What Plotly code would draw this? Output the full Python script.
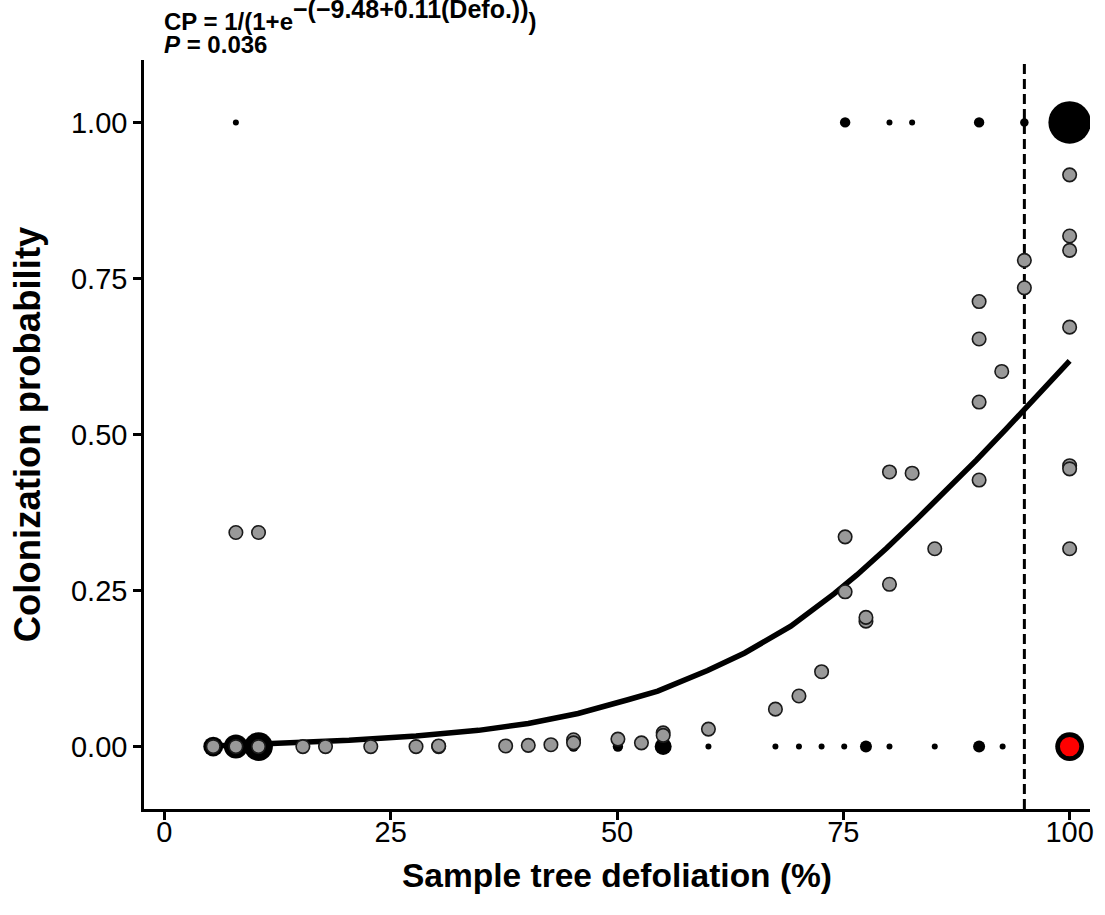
import numpy as np
import plotly.graph_objects as go

# ---------------- data ----------------
# Sample-tree observations (colonized = 1 / not colonized = 0), count per defoliation
obs_top_x = [7.9, 75.2, 80.1, 82.6, 90.0, 95.0, 100.0]
obs_top_n = [1, 3, 1, 1, 3, 2, 50]
obs_bot_x = [5.4, 7.9, 10.4, 45.2, 50.1, 55.1, 60.1, 67.5, 70.1, 72.6, 75.1, 77.5, 80.1, 85.1, 90.0, 92.6, 100.0]
obs_bot_n = [11, 16, 23, 3, 3, 8, 1, 1, 1, 1, 1, 4, 1, 1, 4, 1, 23]

# Plot-level colonization probability
plot_x = [5.4, 7.9, 10.4, 15.3, 17.8, 22.8, 27.8, 30.3, 30.3, 37.7, 40.2, 42.7, 45.2, 45.2,
          50.1, 52.7, 55.1, 55.1, 60.1, 67.5, 70.1, 72.6, 75.2, 75.2, 77.5, 77.5, 80.1, 80.1,
          82.6, 85.1, 90.0, 90.0, 90.0, 90.0, 92.5, 95.0, 95.0, 100.0, 100.0, 100.0, 100.0,
          100.0, 100.0, 100.0, 7.9, 10.4]
plot_y = [0.0, 0.0, 0.0, 0.0, 0.0, 0.0, 0.0, 0.0, 0.001, 0.001, 0.002, 0.003, 0.011, 0.006,
          0.012, 0.006, 0.022, 0.018, 0.028, 0.060, 0.081, 0.120, 0.248, 0.336, 0.201, 0.207,
          0.260, 0.440, 0.438, 0.317, 0.427, 0.552, 0.653, 0.713, 0.601, 0.735, 0.779, 0.916,
          0.818, 0.795, 0.672, 0.450, 0.445, 0.317, 0.343, 0.343]

# Highlighted plot
red_x = [100.0]
red_y = [0.0]

# Fitted colonization probability curve
fit_x = [5.4, 12.0, 20.4, 27.8, 34.7, 40.2, 45.7, 51.2, 54.5, 60.0, 64.1, 69.2, 74.0,
         76.5, 79.8, 83.1, 86.4, 89.7, 93.0, 96.0, 100.0]
fit_y = [0.001, 0.004, 0.010, 0.017, 0.026, 0.037, 0.053, 0.075, 0.089, 0.122, 0.150,
         0.193, 0.245, 0.275, 0.318, 0.364, 0.411, 0.459, 0.509, 0.556, 0.618]

threshold_x = 95

x_ticks = [0, 25, 50, 75, 100]
y_ticks = [0.0, 0.25, 0.5, 0.75, 1.0]
y_tick_text = ["0.00", "0.25", "0.50", "0.75", "1.00"]

FONT = "Liberation Sans, Arial, Helvetica, sans-serif"

fig = go.Figure()

# weighted observations (black)
obs_x = obs_top_x + obs_bot_x
obs_y = [1.0] * len(obs_top_x) + [0.0] * len(obs_bot_x)
obs_n = obs_top_n + obs_bot_n
fig.add_trace(go.Scatter(
    x=obs_x, y=obs_y, mode="markers",
    marker=dict(color="black", opacity=1, size=[6 * np.sqrt(n) for n in obs_n], line=dict(width=0)),
    hoverinfo="skip", showlegend=False))

# fitted curve
fig.add_trace(go.Scatter(
    x=fit_x, y=fit_y, mode="lines",
    line=dict(color="black", width=5.5), hoverinfo="skip", showlegend=False))

# plot probabilities (grey)
fig.add_trace(go.Scatter(
    x=plot_x, y=plot_y, mode="markers",
    marker=dict(color="#999999", opacity=1, size=13.5, line=dict(color="#1a1a1a", width=1.6)),
    hoverinfo="skip", showlegend=False))

# highlighted plot (red)
fig.add_trace(go.Scatter(
    x=red_x, y=red_y, mode="markers",
    marker=dict(color="#ff0000", opacity=1, size=21, line=dict(color="black", width=1.6)),
    hoverinfo="skip", showlegend=False))

fig.add_vline(x=threshold_x, line=dict(color="black", width=3, dash="10px,5px"), layer="below")

axis_common = dict(
    showgrid=False, zeroline=False, showline=True, linecolor="black", linewidth=2.5,
    ticks="outside", ticklen=8, tickwidth=2.5, tickcolor="black",
    tickfont=dict(family=FONT, size=29, color="black"),
)

fig.update_xaxes(
    range=[-2.25, 102.25], tickvals=x_ticks, ticklabelstandoff=-13,
    title=dict(text="<b>Sample tree defoliation (%)</b>", font=dict(family=FONT, size=33.5, color="black"), standoff=18),
    **axis_common)
fig.update_yaxes(
    range=[-0.1, 1.1], tickvals=y_ticks, ticktext=y_tick_text,
    title=dict(text="<b>Colonization probability</b>", font=dict(family=FONT, size=36.5, color="black"), standoff=20),
    **axis_common)

ann_font = dict(family=FONT, color="black")
eq_text = ("<b>CP = 1/(1+e<span style='font-size:28.6px'><sup>"
           "<span style='font-size:25px'>\u2212(\u22129.48+0.11(Defo.))</span>"
           "</sup></span>)</b>")
fig.add_annotation(
    xref="paper", yref="paper", x=0.02, y=1.0315, xanchor="left", yanchor="bottom",
    showarrow=False, borderpad=0, text=eq_text, font=dict(size=24, **ann_font))
fig.add_annotation(
    xref="paper", yref="paper", x=0.02, y=1.002, xanchor="left", yanchor="bottom",
    showarrow=False, borderpad=0, text="<b><i>P</i> = 0.036</b>", font=dict(size=24, **ann_font))

fig.update_layout(
    width=1105, height=915,
    margin=dict(l=144, r=11, t=60, b=106),
    paper_bgcolor="white", plot_bgcolor="white",
    font=dict(family=FONT, color="black"),
)

fig.write_html("out.html")
